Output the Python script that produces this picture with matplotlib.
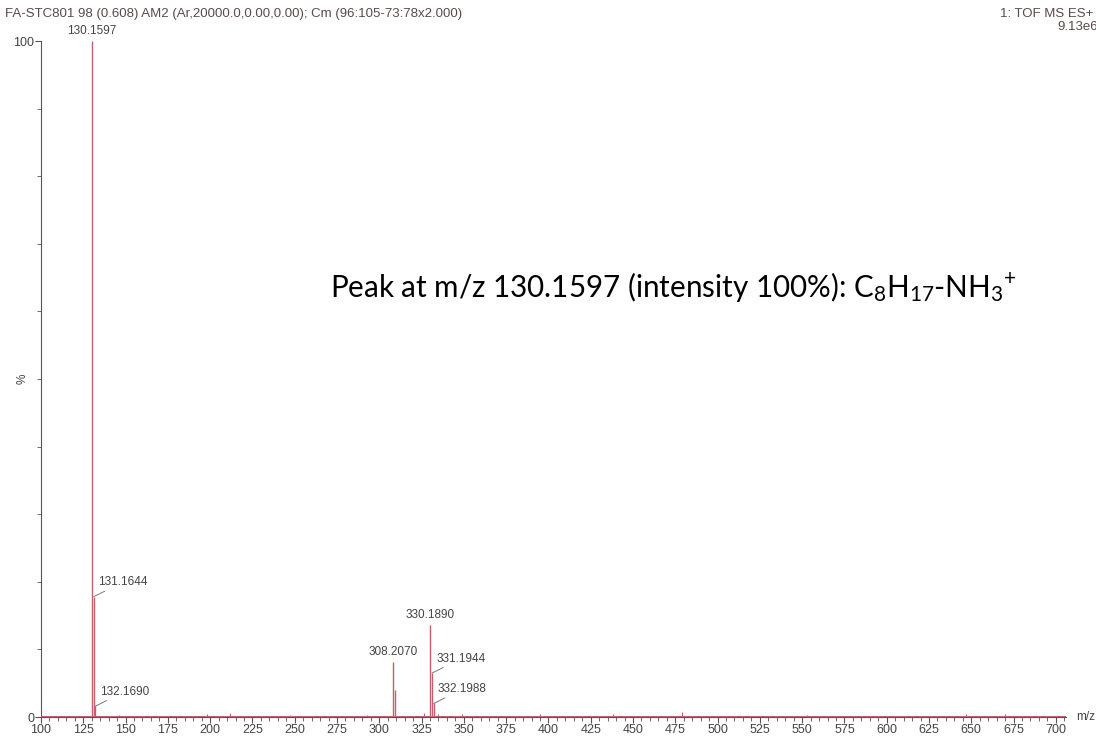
import matplotlib
matplotlib.use("Agg")
import matplotlib.pyplot as plt
from matplotlib.ticker import MultipleLocator

# Centroided ion peaks (m/z, relative intensity %)
peak_mz = [130.1597, 131.1644, 132.1690, 308.2070, 309.2100, 330.1890, 331.1944, 332.1988]
peak_int = [100.0, 17.8, 1.6, 8.1, 4.0, 13.6, 6.5, 2.0]

# Small background ions along the baseline
noise_mz = [146.0, 198.0, 212.0, 247.0, 293.0, 326.5, 335.0, 349.0, 395.0, 438.0, 479.0, 553.0, 647.0, 670.0]
noise_int = [0.3, 0.4, 0.6, 0.3, 0.3, 0.6, 0.5, 0.4, 0.5, 0.4, 0.7, 0.3, 0.4, 0.4]

# Peaks that carry an m/z label, and how the label is placed
label_mz = [130.1597, 131.1644, 132.1690, 308.2070, 330.1890, 331.1944, 332.1988]
label_int = [100.0, 17.8, 1.6, 8.1, 13.6, 6.5, 2.0]
label_side = ["top", "right", "right", "top", "top", "right", "right"]

x_ticks = list(range(100, 701, 25))
header_left = "FA-STC801 98 (0.608) AM2 (Ar,20000.0,0.00,0.00); Cm (96:105-73:78x2.000)"
header_right = ["1: TOF MS ES+", "9.13e6"]
note = r"Peak at m/z 130.1597 (intensity 100%): C$_8$H$_{17}$-NH$_3$$^{+}$"

W, H = 1096, 738
plt.rcParams["mathtext.fontset"] = "custom"
plt.rcParams["mathtext.rm"] = "Lato"
plt.rcParams["mathtext.it"] = "Lato:italic"

fig = plt.figure(figsize=(W / 100, H / 100), dpi=100)
ax = fig.add_axes([41 / W, 21 / H, (1066 - 41) / W, 676 / H])

spec_col = "#c4606a"
grey = "#555555"
small = dict(family="Liberation Sans", fontsize=8.5, color="#444444")

ax.vlines(peak_mz, 0, peak_int, color=spec_col, lw=1.0)
ax.vlines(noise_mz, 0, noise_int, color=spec_col, lw=0.8)
ax.axhline(0, color=spec_col, lw=1.4, zorder=3)

ax.set_xlim(100, 706)
ax.set_ylim(0, 100)

for mz, it, side in zip(label_mz, label_int, label_side):
    lbl = f"{mz:.4f}"
    if side == "top":
        ax.annotate(lbl, (mz, it), xytext=(0, 3), textcoords="offset points",
                    ha="center", va="bottom", **small)
    else:
        ax.annotate(lbl, (mz, it), xytext=(3, 6), textcoords="offset points",
                    ha="left", va="bottom", **small,
                    arrowprops=dict(arrowstyle="-", color="#666666", lw=0.6,
                                    shrinkA=0, shrinkB=0))

for s in ["top", "right"]:
    ax.spines[s].set_visible(False)
ax.spines["left"].set_color(grey)
ax.spines["bottom"].set_color(grey)

ax.set_xticks(x_ticks)
ax.xaxis.set_minor_locator(MultipleLocator(5))
ax.set_yticks([0, 100])
ax.set_yticklabels(["0", "100"])
ax.yaxis.set_minor_locator(MultipleLocator(10))
ax.tick_params(axis="both", which="major", direction="out", length=4, width=0.8,
               colors=grey, labelsize=9, pad=1.0)
ax.tick_params(axis="both", which="minor", direction="out", length=3, width=0.6, colors=grey)
for t in ax.get_xticklabels() + ax.get_yticklabels():
    t.set_family("Liberation Sans")
    t.set_color("#444444")

ax.text(-0.012, 0.5, "%", transform=ax.transAxes, rotation=90, ha="right", va="center", **small)
ax.text(1.010, 0.0, "m/z", transform=ax.transAxes, ha="left", va="center", **small)

hdr = dict(family="Liberation Sans", fontsize=9.5, color="#5a4a4a")
fig.text(5 / W, 1 - 14 / H, header_left, ha="left", va="center", **hdr)
fig.text(1093 / W, 1 - 14 / H, header_right[0], ha="right", va="center", **hdr)
fig.text(1098 / W, 1 - 27 / H, header_right[1], ha="right", va="center", **hdr)

fig.text(330 / W, 1 - 287 / H, note, ha="left", va="center",
         family="Lato", fontsize=21.3, color="black")

fig.savefig("out.png", dpi=100, facecolor="white")
